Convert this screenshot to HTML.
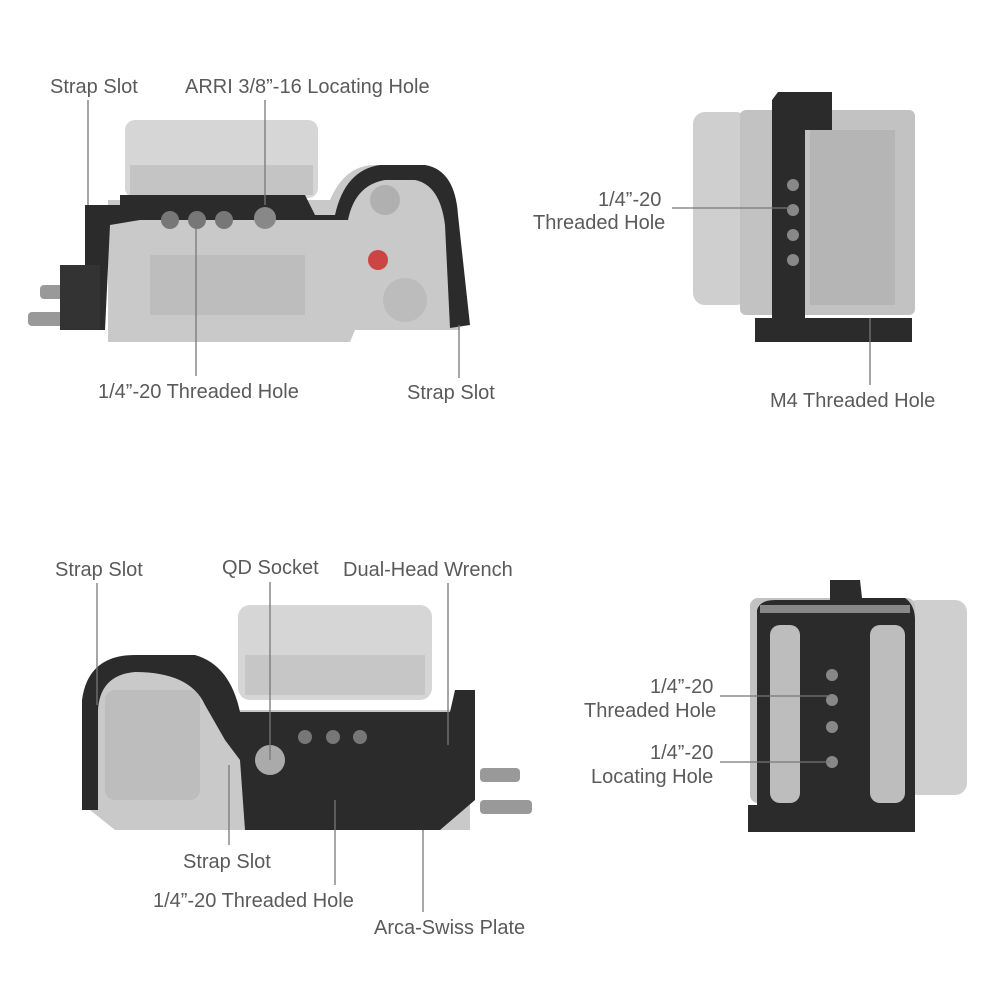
<!DOCTYPE html>
<html><head><meta charset="utf-8"><style>
html,body{margin:0;padding:0;background:#fff;width:1000px;height:1000px;overflow:hidden}
svg{display:block}
text{font-family:"Liberation Sans",sans-serif;font-size:20px;fill:#5a5a5a}
</style></head><body>
<svg width="1000" height="1000" viewBox="0 0 1000 1000" xmlns="http://www.w3.org/2000/svg">
<!-- TOP LEFT camera -->
<rect x="125" y="120" width="193" height="78" rx="10" fill="#d6d6d6"/>
<rect x="130" y="165" width="183" height="30" fill="#c4c4c4"/>
<path d="M108 200 L330 200 Q345 165 375 165 L420 165 Q450 170 455 210 L460 330 L355 330 L350 342 L108 342 Z" fill="#c9c9c9"/>
<rect x="150" y="255" width="155" height="60" fill="#bdbdbd"/>
<circle cx="405" cy="300" r="22" fill="#bcbcbc"/>
<circle cx="385" cy="200" r="15" fill="#b0b0b0"/>
<circle cx="378" cy="260" r="10" fill="#c44"/>
<path d="M85 205 L120 205 L120 195 L305 195 L315 215 L335 215 Q345 170 380 165 L425 165 Q455 170 458 215 L470 325 L450 328 L445 225 Q440 185 415 180 L385 180 Q355 185 348 220 L140 220 L110 225 L105 330 L85 330 Z" fill="#2b2b2b"/>
<circle cx="170" cy="220" r="9" fill="#777"/><circle cx="197" cy="220" r="9" fill="#777"/><circle cx="224" cy="220" r="9" fill="#777"/><circle cx="265" cy="218" r="11" fill="#888"/>
<rect x="40" y="285" width="60" height="14" rx="4" fill="#999"/><rect x="28" y="312" width="72" height="14" rx="4" fill="#999"/>
<rect x="60" y="265" width="40" height="65" fill="#333"/>
<!-- TOP RIGHT camera -->
<rect x="693" y="112" width="55" height="193" rx="12" fill="#cfcfcf"/>
<rect x="740" y="110" width="175" height="205" rx="6" fill="#c2c2c2"/>
<rect x="810" y="130" width="85" height="175" fill="#b5b5b5"/>
<path d="M778 92 L832 92 L832 130 L805 130 L805 318 L912 318 L912 342 L755 342 L755 318 L772 318 L772 100 Z" fill="#2b2b2b"/>
<circle cx="793" cy="185" r="6" fill="#888"/><circle cx="793" cy="210" r="6" fill="#888"/><circle cx="793" cy="235" r="6" fill="#888"/><circle cx="793" cy="260" r="6" fill="#888"/>
<!-- BOTTOM LEFT camera -->
<rect x="238" y="605" width="194" height="95" rx="12" fill="#d6d6d6"/>
<rect x="245" y="655" width="180" height="40" fill="#c6c6c6"/>
<path d="M90 700 Q95 660 135 660 L190 660 Q225 665 235 710 L470 710 L470 830 L115 830 L90 810 Z" fill="#c9c9c9"/>
<path d="M82 700 Q88 655 135 655 L195 655 Q230 665 240 712 L450 712 L455 690 L475 690 L475 800 L440 830 L245 830 L240 760 L225 740 L205 705 Q190 672 135 672 Q100 675 98 710 L98 810 L82 810 Z" fill="#2b2b2b"/>
<rect x="105" y="690" width="95" height="110" rx="10" fill="#bdbdbd"/>
<circle cx="270" cy="760" r="15" fill="#aaa"/>
<circle cx="305" cy="737" r="7" fill="#777"/><circle cx="333" cy="737" r="7" fill="#777"/><circle cx="360" cy="737" r="7" fill="#777"/>
<rect x="480" y="768" width="40" height="14" rx="4" fill="#999"/><rect x="480" y="800" width="52" height="14" rx="4" fill="#999"/>
<!-- BOTTOM RIGHT camera -->
<rect x="905" y="600" width="62" height="195" rx="12" fill="#cfcfcf"/>
<rect x="750" y="598" width="165" height="205" rx="8" fill="#c2c2c2"/>
<path d="M757 610 Q760 600 775 600 L830 600 L830 580 L860 580 L862 598 L905 598 Q915 605 915 620 L915 832 L748 832 L748 805 L757 805 Z" fill="#2b2b2b"/>
<rect x="760" y="605" width="150" height="8" fill="#888"/>
<rect x="770" y="625" width="30" height="178" rx="10" fill="#bdbdbd"/>
<rect x="870" y="625" width="35" height="178" rx="10" fill="#bdbdbd"/>
<circle cx="832" cy="675" r="6" fill="#888"/><circle cx="832" cy="700" r="6" fill="#888"/><circle cx="832" cy="727" r="6" fill="#888"/><circle cx="832" cy="762" r="6" fill="#888"/>
<!-- leader lines -->
<g stroke="#777" stroke-width="1.3" fill="none">
<line x1="88" y1="100" x2="88" y2="205"/>
<line x1="265" y1="100" x2="265" y2="205"/>
<line x1="196" y1="215" x2="196" y2="376"/>
<line x1="459" y1="325" x2="459" y2="378"/>
<line x1="672" y1="208" x2="790" y2="208"/>
<line x1="870" y1="318" x2="870" y2="385"/>
<line x1="97" y1="583" x2="97" y2="705"/>
<line x1="270" y1="582" x2="270" y2="760"/>
<line x1="448" y1="583" x2="448" y2="745"/>
<line x1="229" y1="765" x2="229" y2="845"/>
<line x1="335" y1="800" x2="335" y2="885"/>
<line x1="423" y1="830" x2="423" y2="912"/>
<line x1="720" y1="696" x2="830" y2="696"/>
<line x1="720" y1="762" x2="830" y2="762"/>
</g>
<!-- labels -->
<text x="50" y="93">Strap Slot</text>
<text x="185" y="93">ARRI 3/8”-16 Locating Hole</text>
<text x="598" y="206">1/4”-20</text>
<text x="533" y="229">Threaded Hole</text>
<text x="98" y="398">1/4”-20 Threaded Hole</text>
<text x="407" y="399">Strap Slot</text>
<text x="770" y="407">M4 Threaded Hole</text>
<text x="55" y="576">Strap Slot</text>
<text x="222" y="574">QD Socket</text>
<text x="343" y="576">Dual-Head Wrench</text>
<text x="650" y="693">1/4”-20</text>
<text x="584" y="717">Threaded Hole</text>
<text x="650" y="759">1/4”-20</text>
<text x="591" y="783">Locating Hole</text>
<text x="183" y="868">Strap Slot</text>
<text x="153" y="907">1/4”-20 Threaded Hole</text>
<text x="374" y="934">Arca-Swiss Plate</text>
</svg>
</body></html>
